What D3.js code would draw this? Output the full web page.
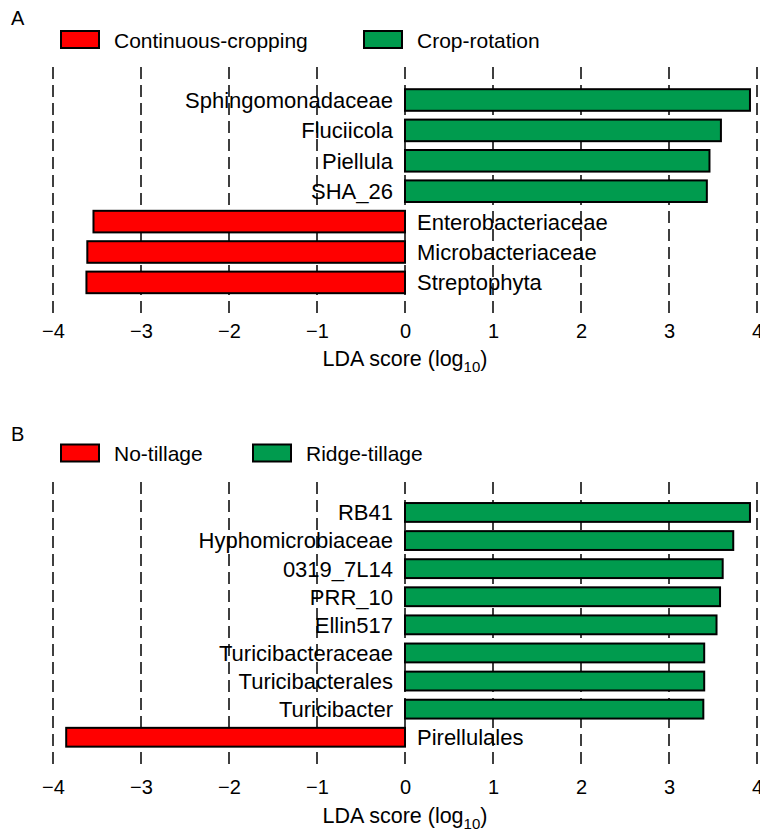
<!DOCTYPE html>
<html>
<head>
<meta charset="utf-8">
<script src="https://cdn.jsdelivr.net/npm/d3@7"></script>
<style>
  body { margin: 0; background: #fff; }
  svg { font-family: "Liberation Sans", Arial, sans-serif; }
</style>
</head>
<body>
<svg id="chart" width="760" height="837"></svg>
<script>
// panel A data
const taxaA = ["Sphingomonadaceae", "Fluciicola", "Piellula", "SHA_26",
               "Enterobacteriaceae", "Microbacteriaceae", "Streptophyta"];
const ldaA = [3.92, 3.59, 3.46, 3.43, -3.54, -3.61, -3.62];
const groupsA = ["Continuous-cropping", "Crop-rotation"];

// panel B data
const taxaB = ["RB41", "Hyphomicrobiaceae", "0319_7L14", "PRR_10", "Ellin517",
               "Turicibacteraceae", "Turicibacterales", "Turicibacter", "Pirellulales"];
const ldaB = [3.92, 3.73, 3.61, 3.58, 3.54, 3.40, 3.40, 3.39, -3.85];
const groupsB = ["No-tillage", "Ridge-tillage"];

const ticks = [-4, -3, -2, -1, 0, 1, 2, 3, 4];

const red = "#ff0000";
const green = "#009b4e";

const svg = d3.select("#chart");

const x = d3.scaleLinear()
    .domain([-4, 4])
    .range([53, 757]);

function drawPanel(opts) {
  const g = svg.append("g");
  const data = opts.taxa.map((t, i) => ({ name: t, value: opts.lda[i] }));

  // panel letter
  g.append("text")
      .attr("x", 11)
      .attr("y", opts.letterY)
      .style("font-size", "20px")
      .text(opts.letter);

  // legend
  opts.groups.forEach((name, i) => {
    const lx = opts.legendX[i];
    g.append("rect")
        .attr("x", lx + 1)
        .attr("y", opts.legendY - 9.5)
        .attr("width", 38)
        .attr("height", 17)
        .attr("fill", i === 0 ? red : green)
        .attr("stroke", "#000")
        .attr("stroke-width", 2);
    g.append("text")
        .attr("x", lx + 54)
        .attr("y", opts.legendY)
        .attr("dy", "0.35em")
        .style("font-size", "21px")
        .text(name);
  });

  const y = d3.scaleBand()
      .domain(opts.taxa)
      .range(opts.bandRange)
      .paddingInner(opts.pad)
      .paddingOuter(opts.pad / 2);

  // dashed grid
  g.append("g")
    .selectAll("line")
    .data(ticks)
    .join("line")
      .attr("x1", d => x(d))
      .attr("x2", d => x(d))
      .attr("y1", opts.gridTop)
      .attr("y2", opts.gridBottom)
      .attr("stroke", "#000")
      .attr("stroke-width", 1.5)
      .attr("stroke-dasharray", "12,6");

  // bars
  g.append("g")
    .selectAll("rect")
    .data(data)
    .join("rect")
      .attr("x", d => x(Math.min(0, d.value)))
      .attr("y", d => y(d.name))
      .attr("width", d => Math.abs(x(d.value) - x(0)))
      .attr("height", y.bandwidth())
      .attr("fill", d => d.value < 0 ? red : green)
      .attr("stroke", "#000")
      .attr("stroke-width", 2);

  // taxa labels
  g.append("g")
    .selectAll("text")
    .data(data)
    .join("text")
      .attr("x", d => d.value < 0 ? x(0) + 12 : x(0) - 12)
      .attr("y", d => y(d.name) + y.bandwidth() / 2)
      .attr("dy", "0.36em")
      .attr("text-anchor", d => d.value < 0 ? "start" : "end")
      .style("font-size", "22px")
      .text(d => d.name);

  // tick labels
  const axis = g.append("g")
      .attr("transform", `translate(0,${opts.tickTop})`)
      .call(d3.axisBottom(x).tickValues(ticks).tickSize(0).tickPadding(0));
  axis.select(".domain").remove();
  axis.selectAll("text")
      .attr("fill", "#000")
      .style("font-size", "20px")
      .style("font-family", "'Liberation Sans', Arial, sans-serif");

  // axis title
  const title = g.append("text")
      .attr("x", x(0))
      .attr("y", opts.titleY)
      .attr("text-anchor", "middle")
      .style("font-size", "21.5px");
  title.append("tspan").text("LDA score (log");
  title.append("tspan").attr("dy", 6).style("font-size", "15px").text("10");
  title.append("tspan").attr("dy", -6).text(")");
}

drawPanel({
  letter: "A", letterY: 25,
  groups: groupsA, legendX: [60, 363], legendY: 40.5,
  taxa: taxaA, lda: ldaA,
  bandRange: [84.8, 297.6], pad: 0.29,
  gridTop: 67, gridBottom: 314,
  tickTop: 324, titleY: 366
});

drawPanel({
  letter: "B", letterY: 441,
  groups: groupsB, legendX: [60, 252], legendY: 454,
  taxa: taxaB, lda: ldaB,
  bandRange: [498.4, 751.3], pad: 0.33,
  gridTop: 482, gridBottom: 770,
  tickTop: 780, titleY: 823
});
</script>
</body>
</html>
